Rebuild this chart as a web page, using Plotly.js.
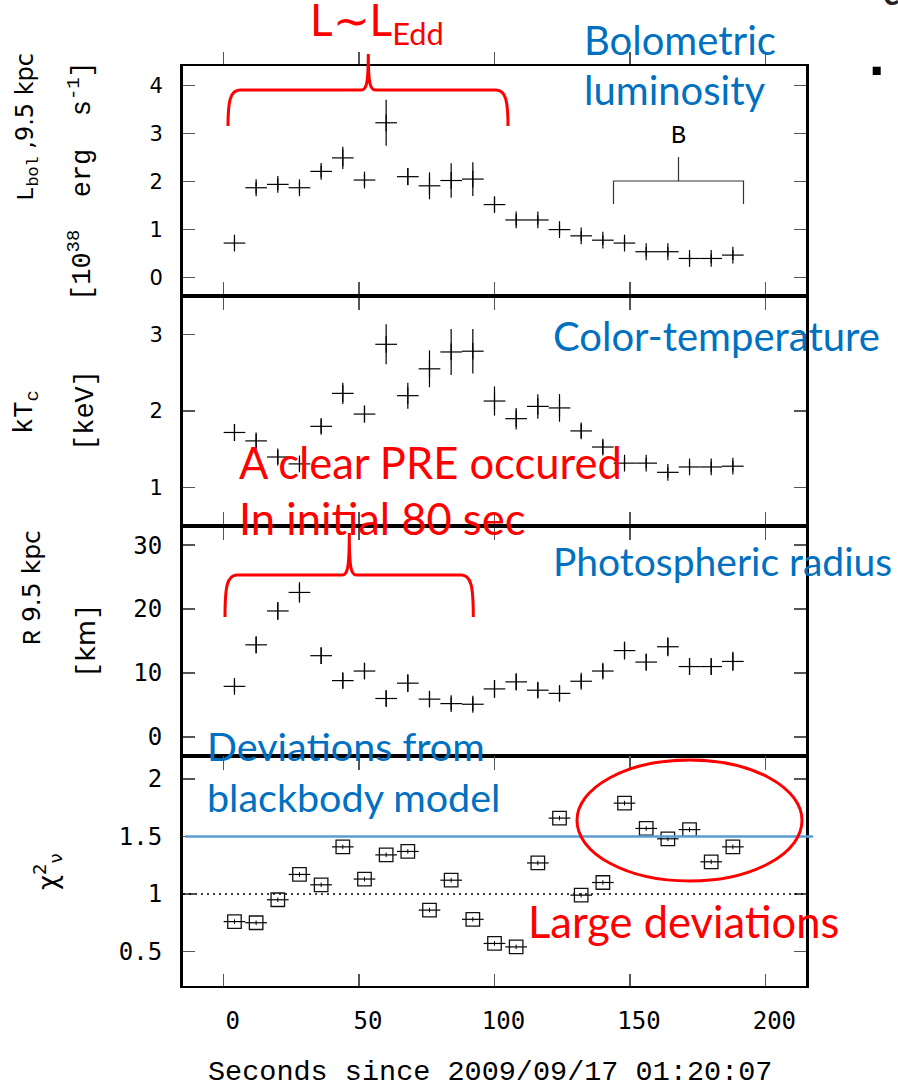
<!DOCTYPE html>
<html><head><meta charset="utf-8">
<script src="https://cdn.plot.ly/plotly-3.0.1.min.js"></script>
<style>html,body{margin:0;padding:0;background:#fff}</style>
</head><body><div id="chart" style="width:898px;height:1087px"></div>
<script>
// ---- data ----
const time = [4,12,20,28,36,44,52,60,68,76,84,92,100,108,116,124,132,140,148,156,164,172,180,188];
const timeHalfWidth = 4;
const lbol = [0.72,1.87,1.94,1.87,2.21,2.49,2.03,3.22,2.10,1.91,2.02,2.05,1.52,1.20,1.20,1.00,0.87,0.78,0.72,0.54,0.54,0.40,0.40,0.47];
const lbolErr = [0.08,0.12,0.12,0.12,0.12,0.23,0.13,0.48,0.18,0.28,0.36,0.35,0.15,0.12,0.10,0.10,0.10,0.10,0.10,0.10,0.10,0.10,0.10,0.10];
const kT = [1.72,1.61,1.40,1.31,1.80,2.23,1.96,2.87,2.20,2.55,2.77,2.78,2.13,1.90,2.06,2.04,1.74,1.53,1.32,1.32,1.20,1.27,1.27,1.28];
const kTErr = [0.11,0.09,0.09,0.08,0.09,0.14,0.11,0.26,0.17,0.24,0.30,0.29,0.19,0.14,0.16,0.18,0.09,0.09,0.07,0.07,0.07,0.07,0.07,0.07];
const radius = [7.9,14.4,19.7,22.6,12.7,8.8,10.3,6.0,8.4,5.9,5.2,5.1,7.5,8.6,7.3,6.8,8.7,10.3,13.5,11.7,14.1,11.0,11.0,11.8];
const radiusErr = [1.0,1.3,1.4,1.6,1.3,1.2,1.25,1.2,1.4,1.2,1.0,1.0,1.4,1.3,1.2,1.2,1.0,1.1,1.4,1.3,1.5,1.3,1.3,1.5];
const chi2 = [0.76,0.75,0.95,1.17,1.08,1.41,1.13,1.34,1.37,0.86,1.12,0.78,0.57,0.54,1.27,1.66,0.99,1.10,1.79,1.57,1.48,1.56,1.28,1.41];
const chi2Err = [0.02,0.02,0.02,0.02,0.02,0.02,0.02,0.02,0.02,0.02,0.02,0.02,0.02,0.02,0.02,0.02,0.02,0.02,0.02,0.02,0.02,0.02,0.02,0.02];
const xTicks = [0,50,100,150,200];
const chi2Ref = 1;
const chi2Limit = 1.5;

// ---- geometry helpers (pixel -> paper) ----
const L0=183, T0=66, PW=623, PH=920;
const px = v => (v - L0)/PW;
const py = v => (T0 + PH - v)/PH;
function pathFrom(cmds){
  return cmds.map(c => c[0] + ' ' + c.slice(1).map((v,i)=> i%2===0 ? px(v).toFixed(5) : py(v).toFixed(5)).join(',')).join(' ');
}
function brace(xl, xr, xm, yb, yh, yp){
  return pathFrom([
    ['M', xl, yb], ['C', xl, yh+12, xl+2, yh, xl+12, yh],
    ['L', xm-7, yh], ['C', xm-2, yh, xm, yh-6, xm, yp],
    ['C', xm, yh-6, xm+2, yh, xm+7, yh],
    ['L', xr-12, yh], ['C', xr-2, yh, xr, yh+12, xr, yb]
  ]);
}

const black = '#000';
function crossTrace(y, err, yaxis){
  return {x: time, y: y, type:'scatter', mode:'markers', xaxis:'x', yaxis: yaxis,
    marker:{symbol:'line-ns', size:12, color:black, line:{color:black, width:1.2}},
    error_x:{type:'constant', value:timeHalfWidth, width:0, thickness:1.2, color:black},
    error_y:{type:'data', array:err, visible:true, width:0, thickness:1.2, color:black},
    hoverinfo:'none', showlegend:false};
}
const traces = [
  crossTrace(lbol, lbolErr, 'y'),
  crossTrace(kT, kTErr, 'y2'),
  crossTrace(radius, radiusErr, 'y3'),
  {x: time, y: chi2, type:'scatter', mode:'markers', xaxis:'x', yaxis:'y4',
   marker:{symbol:'square-open', size:13.5, color:'#111', line:{color:'#111', width:1.3}},
   error_x:{type:'constant', value:timeHalfWidth, width:0, thickness:1.2, color:black},
   error_y:{type:'data', array:chi2Err, visible:true, width:0, thickness:1, color:black},
   hoverinfo:'none', showlegend:false}
];

function yax(domain, range, dtick, font){
  return {domain:domain, range:range, dtick:dtick, anchor:'x', ticks:'inside', ticklen:12, tickwidth:1.5,
    tickcolor:'#555', showline:true, linewidth:3, linecolor:black, mirror:'ticks', showgrid:false,
    zeroline:false, tickfont:font, ticklabelstandoff:13};
}
const sansTick = {family:'DejaVu Sans', size:21, color:black};
const monoTick = {family:'DejaVu Sans Mono', size:24, color:black};

const BLUE = '#0070c0', RED = '#ff0000';
function txt(text, x, y, size, color, xanchor, extra){
  return Object.assign({text:text, xref:'paper', yref:'paper', x:px(x), y:py(y), xanchor:xanchor||'left',
    yanchor:'middle', showarrow:false, font:{family:'Lato', size:size, color:color}}, extra||{});
}
function ylab(text, x, y, family, size){
  return {text:text, xref:'paper', yref:'paper', x:px(x), y:py(y), xanchor:'center', yanchor:'middle',
    showarrow:false, textangle:-90, font:{family:family, size:size, color:black}};
}
const MONO = "font-family:'Liberation Mono'";
const annotations = [
  ylab(`<span style="${MONO}">L<sub>bol</sub></span> ,9.5 kpc`, 27, 127, 'DejaVu Sans', 24),
  ylab(`[10<sup>38</sup>  erg  s<sup>-1</sup>]`, 80, 181, 'Liberation Mono', 27),
  ylab(`kT<sub>c</sub>`, 27, 412, 'Liberation Mono', 27),
  ylab(`[keV]`, 86, 411, 'Liberation Mono', 27),
  ylab(`<span style="${MONO}">R</span> 9.5 kpc`, 32, 588, 'DejaVu Sans', 25),
  ylab(`[<span style="font-family:'DejaVu Sans'">km</span>]`, 86, 641, 'Liberation Mono', 27),
  ylab(`χ<sup>2</sup><sub>ν</sub>`, 47, 872, 'DejaVu Sans', 26),
  {text:'Seconds since 2009/09/17 01:20:07', xref:'paper', yref:'paper', x:px(490), y:py(1072),
   xanchor:'center', yanchor:'middle', showarrow:false, font:{family:'Liberation Mono', size:28.5, color:black}},
  {text:'B', xref:'paper', yref:'paper', x:px(678), y:py(136), xanchor:'center', yanchor:'middle',
   showarrow:false, font:{family:'Liberation Mono', size:25, color:black}},
  txt('L∼L<sub>Edd</sub>', 377, 23, 44, RED, 'center'),
  txt('Bolometric', 582, 40, 40, BLUE),
  txt('luminosity', 582, 90, 40, BLUE),
  txt('Color-temperature', 551, 336, 40, BLUE),
  txt('Photospheric radius', 551, 561, 39, BLUE),
  txt('A clear PRE occured', 237, 462, 43.5, RED),
  txt('In initial 80 sec', 237, 518, 43.5, RED),
  txt('Deviations from', 205, 745, 39.5, BLUE),
  txt('blackbody model', 205, 796, 39.5, BLUE),
  txt('Large deviations', 526, 921, 43.5, RED),
  {text:'<b>c</b>', xref:'paper', yref:'paper', x:px(891), y:py(-8), xanchor:'center', yanchor:'middle',
   showarrow:false, font:{family:'Lato', size:34, color:'#222'}}
];

const shapes = [
  {type:'line', xref:'paper', yref:'y4', x0:0, x1:1, y0:chi2Ref, y1:chi2Ref,
   line:{color:black, width:1.5, dash:'2px,4px'}},
  {type:'line', xref:'paper', yref:'y4', x0:px(185), x1:px(813), y0:chi2Limit, y1:chi2Limit,
   line:{color:'#5b9bd5', width:2.5}},
  {type:'path', xref:'paper', yref:'paper', path: pathFrom([
     ['M', 613.5, 204], ['L', 613.5, 181], ['L', 743.5, 181], ['L', 743.5, 204],
     ['M', 678.5, 181], ['L', 678.5, 157]]), line:{color:'#333', width:1.2}},
  {type:'path', xref:'paper', yref:'paper', path: brace(228, 508, 368.3, 126, 90, 54), line:{color:RED, width:3}},
  {type:'path', xref:'paper', yref:'paper', path: brace(225, 473.3, 349.3, 617, 575, 533), line:{color:RED, width:3}},
  {type:'circle', xref:'paper', yref:'paper', x0:px(577), x1:px(802), y0:py(760), y1:py(881), line:{color:RED, width:3}},
  {type:'rect', xref:'paper', yref:'paper', x0:px(872.7), x1:px(880.7), y0:py(66.7), y1:py(75),
   fillcolor:black, line:{width:0}}
];

const layout = {
  width:898, height:1087, margin:{l:L0, r:898-L0-PW, t:T0, b:1087-T0-PH},
  paper_bgcolor:'#fff', plot_bgcolor:'rgba(0,0,0,0)', showlegend:false,
  xaxis:{domain:[0,1], range:[-15,215], anchor:'y4', tickvals:xTicks, ticks:'inside', ticklen:12, tickwidth:1.5,
    tickcolor:'#555', showline:true, linewidth:2, linecolor:black, mirror:'allticks', showgrid:false,
    zeroline:false, tickfont:monoTick, ticklabelshift:9, ticklabelstandoff:12},
  yaxis: yax([0.75,1], [-0.38,4.4], 1, sansTick),
  yaxis2: yax([0.5,0.75], [0.5,3.5], 1, sansTick),
  yaxis3: yax([0.25,0.5], [-3,33], 10, monoTick),
  yaxis4: yax([0,0.25], [0.2,2.2], 0.5, monoTick),
  annotations: annotations,
  shapes: shapes
};
Plotly.newPlot('chart', traces, layout, {staticPlot:true, displayModeBar:false});
</script></body></html>
